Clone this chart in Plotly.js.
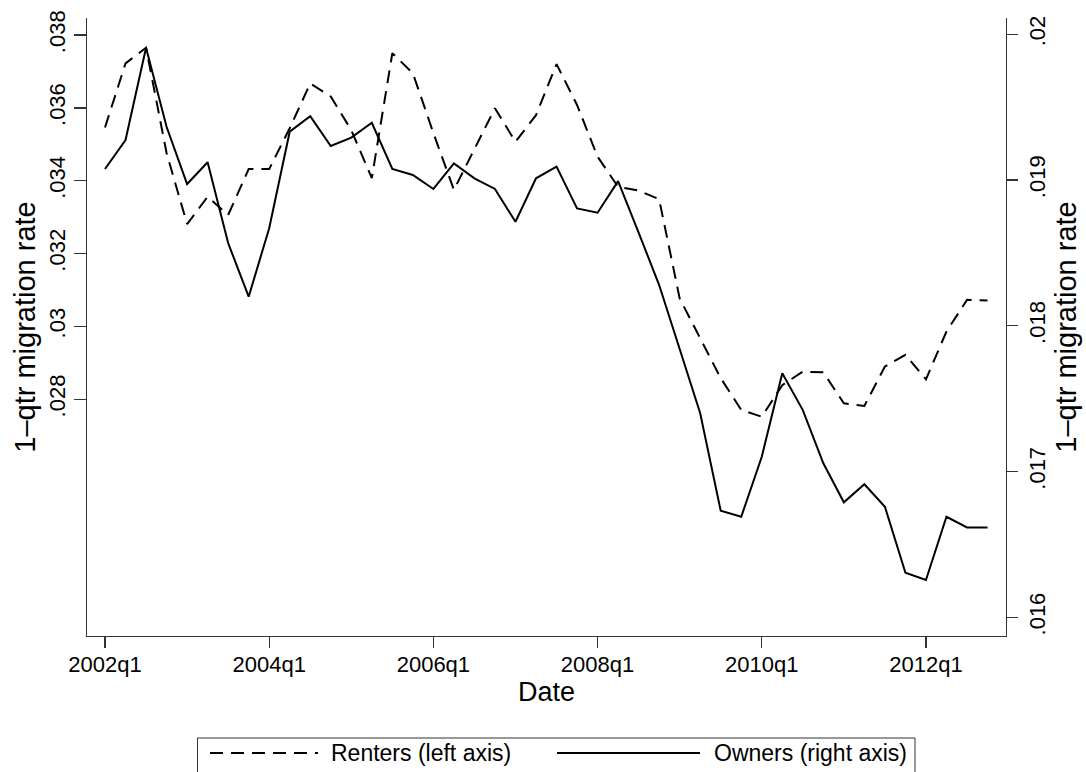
<!DOCTYPE html>
<html>
<head>
<meta charset="utf-8">
<script src="https://cdn.plot.ly/plotly-3.0.1.min.js"></script>
<style>
  html, body { margin: 0; padding: 0; background: #ffffff; }
  #chart { width: 1086px; height: 772px; }
</style>
</head>
<body>
<div id="chart"></div>
<script>
// Quarterly dates, 2002q1 through 2012q4
const quarters = [
  "2002q1","2002q2","2002q3","2002q4","2003q1","2003q2","2003q3","2003q4",
  "2004q1","2004q2","2004q3","2004q4","2005q1","2005q2","2005q3","2005q4",
  "2006q1","2006q2","2006q3","2006q4","2007q1","2007q2","2007q3","2007q4",
  "2008q1","2008q2","2008q3","2008q4","2009q1","2009q2","2009q3","2009q4",
  "2010q1","2010q2","2010q3","2010q4","2011q1","2011q2","2011q3","2011q4",
  "2012q1","2012q2","2012q3","2012q4"
];

// One-quarter migration rate of renters (left axis)
const renters = [
  0.03546, 0.03722, 0.03765, 0.03476, 0.03281, 0.03356, 0.03306, 0.03432,
  0.03432, 0.03544, 0.03667, 0.03631, 0.03539, 0.03407, 0.03750, 0.03695,
  0.03531, 0.03375, 0.03487, 0.03599, 0.03507, 0.03580, 0.03720, 0.03608,
  0.03466, 0.03383, 0.03373, 0.03349, 0.03077, 0.02968, 0.02858, 0.02771,
  0.02752, 0.02839, 0.02876, 0.02874, 0.02789, 0.02782, 0.02890, 0.02922,
  0.02855, 0.02986, 0.03073, 0.03071
];

// One-quarter migration rate of owners (right axis)
const owners = [
  0.019076, 0.019275, 0.019908, 0.019366, 0.018973, 0.019122, 0.018568, 0.018200,
  0.018669, 0.019332, 0.019439, 0.019234, 0.019291, 0.019393, 0.019076, 0.019035,
  0.018939, 0.019115, 0.019012, 0.018939, 0.018714, 0.019012, 0.019092, 0.018806,
  0.018776, 0.018993, 0.018640, 0.018280, 0.017841, 0.017400, 0.016731, 0.016690,
  0.017102, 0.017674, 0.017422, 0.017057, 0.016789, 0.016913, 0.016759, 0.016306,
  0.016256, 0.016690, 0.016617, 0.016617
];

// Axis tick labels
const xTickVals = ["2002q1","2004q1","2006q1","2008q1","2010q1","2012q1"];
const leftTickVals = [0.028, 0.030, 0.032, 0.034, 0.036, 0.038];
const leftTickText = [".028", ".03", ".032", ".034", ".036", ".038"];
const rightTickVals = [0.016, 0.017, 0.018, 0.019, 0.020];
const rightTickText = [".016", ".017", ".018", ".019", ".02"];

const seriesNames = ["Renters (left axis)", "Owners (right axis)"];
const yTitle = "1\u2013qtr migration rate";

const FONT = "Liberation Sans, Arial, Helvetica, sans-serif";
const AXIS_COLOR = "#333333";
const INK = "#000000";

const traces = [
  {
    x: quarters, y: renters, name: seriesNames[0], yaxis: "y",
    type: "scatter", mode: "lines",
    line: { color: INK, width: 2, dash: "13px,8px" },
    showlegend: false, hoverinfo: "x+y"
  },
  {
    x: quarters, y: owners, name: seriesNames[1], yaxis: "y2",
    type: "scatter", mode: "lines",
    line: { color: INK, width: 2 },
    showlegend: false, hoverinfo: "x+y"
  }
];

// Plot area: 87..1006 px horizontally, 18..636 px vertically
const PL = 87, PR = 1006, PT = 18, PB = 636;
const px = v => (v - PL) / (PR - PL);
const py = v => (PB - v) / (PB - PT);

// Legend drawn underneath the plot
const legendY = 753;
const shapes = [
  { type: "rect", xref: "paper", yref: "paper",
    x0: px(197.5), x1: px(915), y0: py(738), y1: py(800),
    line: { color: AXIS_COLOR, width: 1 }, fillcolor: "rgba(0,0,0,0)" },
  { type: "line", xref: "paper", yref: "paper",
    x0: px(210), x1: px(318), y0: py(legendY), y1: py(legendY),
    line: { color: INK, width: 2, dash: "13px,8px" } },
  { type: "line", xref: "paper", yref: "paper",
    x0: px(557), x1: px(700), y0: py(legendY), y1: py(legendY),
    line: { color: INK, width: 2 } }
];
const annotations = [
  { text: seriesNames[0], xref: "paper", yref: "paper",
    x: px(329), y: py(legendY), xanchor: "left", yanchor: "middle",
    showarrow: false, font: { family: FONT, size: 23, color: INK } },
  { text: seriesNames[1], xref: "paper", yref: "paper",
    x: px(712), y: py(legendY), xanchor: "left", yanchor: "middle",
    showarrow: false, font: { family: FONT, size: 23, color: INK } }
];

const layout = {
  width: 1086, height: 772,
  margin: { l: PL, r: 1086 - PR, t: PT, b: 772 - PB, autoexpand: false },
  paper_bgcolor: "#ffffff", plot_bgcolor: "#ffffff",
  font: { family: FONT, color: INK },
  showlegend: false,
  xaxis: {
    type: "category",
    range: [-0.877, 43.90],
    tickmode: "array", tickvals: xTickVals, ticktext: xTickVals,
    ticks: "outside", ticklen: 11, tickwidth: 1.3, tickcolor: AXIS_COLOR,
    ticklabelstandoff: -3,
    showline: true, linecolor: AXIS_COLOR, linewidth: 1.3,
    showgrid: false, zeroline: false,
    tickfont: { family: FONT, size: 22, color: INK },
    title: { text: "Date", font: { family: FONT, size: 27, color: INK }, standoff: 0 }
  },
  yaxis: {
    range: [0.021503, 0.038467],
    tickmode: "array", tickvals: leftTickVals, ticktext: leftTickText,
    tickangle: -90,
    ticks: "outside", ticklen: 12, tickwidth: 1.3, tickcolor: AXIS_COLOR,
    showline: true, linecolor: AXIS_COLOR, linewidth: 1.3,
    showgrid: false, zeroline: false,
    tickfont: { family: FONT, size: 22, color: INK },
    title: { text: yTitle, font: { family: FONT, size: 29, color: INK }, standoff: 0 }
  },
  yaxis2: {
    overlaying: "y", side: "right",
    range: [0.015872, 0.020112],
    tickmode: "array", tickvals: rightTickVals, ticktext: rightTickText,
    tickangle: -90,
    ticks: "outside", ticklen: 11, tickwidth: 1.3, tickcolor: AXIS_COLOR,
    showline: true, linecolor: AXIS_COLOR, linewidth: 1.3,
    showgrid: false, zeroline: false,
    tickfont: { family: FONT, size: 22, color: INK },
    title: { text: yTitle, font: { family: FONT, size: 29, color: INK }, standoff: 4 }
  },
  shapes: shapes,
  annotations: annotations
};

Plotly.newPlot("chart", traces, layout, { displayModeBar: false, staticPlot: true });
</script>
</body>
</html>
